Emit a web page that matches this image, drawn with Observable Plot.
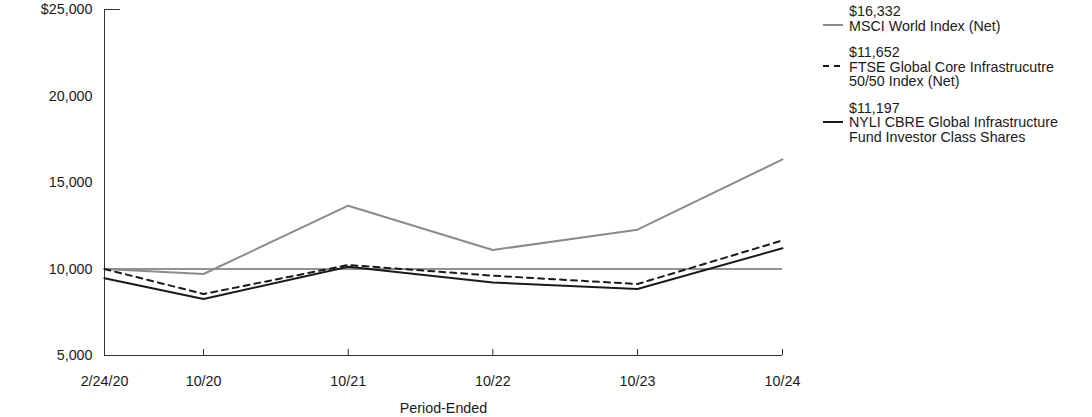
<!DOCTYPE html>
<html>
<head>
<meta charset="utf-8">
<script src="https://cdn.jsdelivr.net/npm/d3@7"></script>
<script src="https://cdn.jsdelivr.net/npm/@observablehq/plot@0.6"></script>
<style>
  body { margin: 0; background: #fff; font-family: "Liberation Sans", Arial, sans-serif; }
  #wrap { position: relative; width: 1092px; height: 417px; }
  #legend { position: absolute; left: 823px; top: 4px; font-size: 14.3px; line-height: 14.5px; color: #1a1a1a; }
  .entry { position: relative; padding-left: 26px; margin-bottom: 12px; }
  .entry svg { position: absolute; left: 0; }
</style>
</head>
<body>
<div id="wrap"><div id="chart"></div><div id="legend"></div></div>
<script>
const dates = ["2020-02-24", "2020-10-31", "2021-10-31", "2022-10-31", "2023-10-31", "2024-10-31"];
const dateLabels = ["2/24/20", "10/20", "10/21", "10/22", "10/23", "10/24"];
const seriesNames = [
  "MSCI World Index (Net)",
  "FTSE Global Core Infrastrucutre 50/50 Index (Net)",
  "NYLI CBRE Global Infrastructure Fund Investor Class Shares"
];
const legendLines = [
  ["MSCI World Index (Net)"],
  ["FTSE Global Core Infrastrucutre", "50/50 Index (Net)"],
  ["NYLI CBRE Global Infrastructure", "Fund Investor Class Shares"]
];
const msci = [10000, 9711, 13659, 11098, 12272, 16332];
const ftse = [10000, 8555, 10231, 9613, 9133, 11652];
const nyli = [9462, 8266, 10133, 9220, 8844, 11197];
const yTicks = [5000, 10000, 15000, 20000, 25000];

const parsed = dates.map(d => new Date(d + "T00:00:00Z"));
const styles = [
  {stroke: "#8c8c8c", dash: null},
  {stroke: "#1a1a1a", dash: "6,5"},
  {stroke: "#1a1a1a", dash: null}
];
const values = [msci, ftse, nyli];
const rows = [];
values.forEach((arr, s) => arr.forEach((v, i) => rows.push({series: seriesNames[s], date: parsed[i], value: v})));

const labelMap = new Map(parsed.map((d, i) => [+d, dateLabels[i]]));
const fmt = d3.format(",");

const chart = Plot.plot({
  width: 1092,
  height: 417,
  marginLeft: 104,
  marginRight: 310,
  marginTop: 9,
  marginBottom: 62,
  style: {fontFamily: "'Liberation Sans', Arial, sans-serif", fontSize: "14.3px", color: "#1a1a1a", background: "#fff"},
  x: {type: "utc", domain: [parsed[0], parsed[parsed.length - 1]]},
  y: {domain: [5000, 25000]},
  marks: [
    Plot.axisY(yTicks, {tickSize: 0, tickPadding: 12, tickFormat: v => v === 25000 ? "$" + fmt(v) : fmt(v), label: null}),
    Plot.axisX(parsed, {tickSize: 0, tickPadding: 20, tickFormat: d => labelMap.get(+d), label: "Period-Ended", labelAnchor: "center", labelArrow: "none", labelOffset: 57}),
    Plot.ruleY([10000], {stroke: "#6e6e6e", strokeWidth: 1.5}),
    Plot.ruleX([parsed[0]], {stroke: "#333", strokeWidth: 1}),
    Plot.ruleY([5000], {stroke: "#333", strokeWidth: 1}),
    Plot.ruleY([25000], {stroke: "#333", strokeWidth: 1, insetRight: 662}),
    Plot.ruleX(parsed.slice(1), {y1: 5000, y2: 5000, insetTop: -6, stroke: "#333", strokeWidth: 1}),
    ...seriesNames.map((name, s) =>
      Plot.line(rows.filter(r => r.series === name), {
        x: "date", y: "value",
        stroke: styles[s].stroke, strokeWidth: 2,
        strokeDasharray: styles[s].dash || undefined,
        strokeLinejoin: "miter"
      })
    )
  ]
});
document.getElementById("chart").appendChild(chart);

const legend = document.getElementById("legend");
seriesNames.forEach((name, s) => {
  const arr = values[s];
  const div = document.createElement("div");
  div.className = "entry";
  const dash = styles[s].dash ? `stroke-dasharray="6,5"` : "";
  div.innerHTML = `<svg width="20" height="4" style="top:19px"><line x1="0" x2="20" y1="2" y2="2" stroke="${styles[s].stroke}" stroke-width="2" ${dash}/></svg>` +
    `<div>$${fmt(arr[arr.length - 1])}</div>` + legendLines[s].map(l => `<div>${l}</div>`).join("");
  legend.appendChild(div);
});
</script>
</body>
</html>
